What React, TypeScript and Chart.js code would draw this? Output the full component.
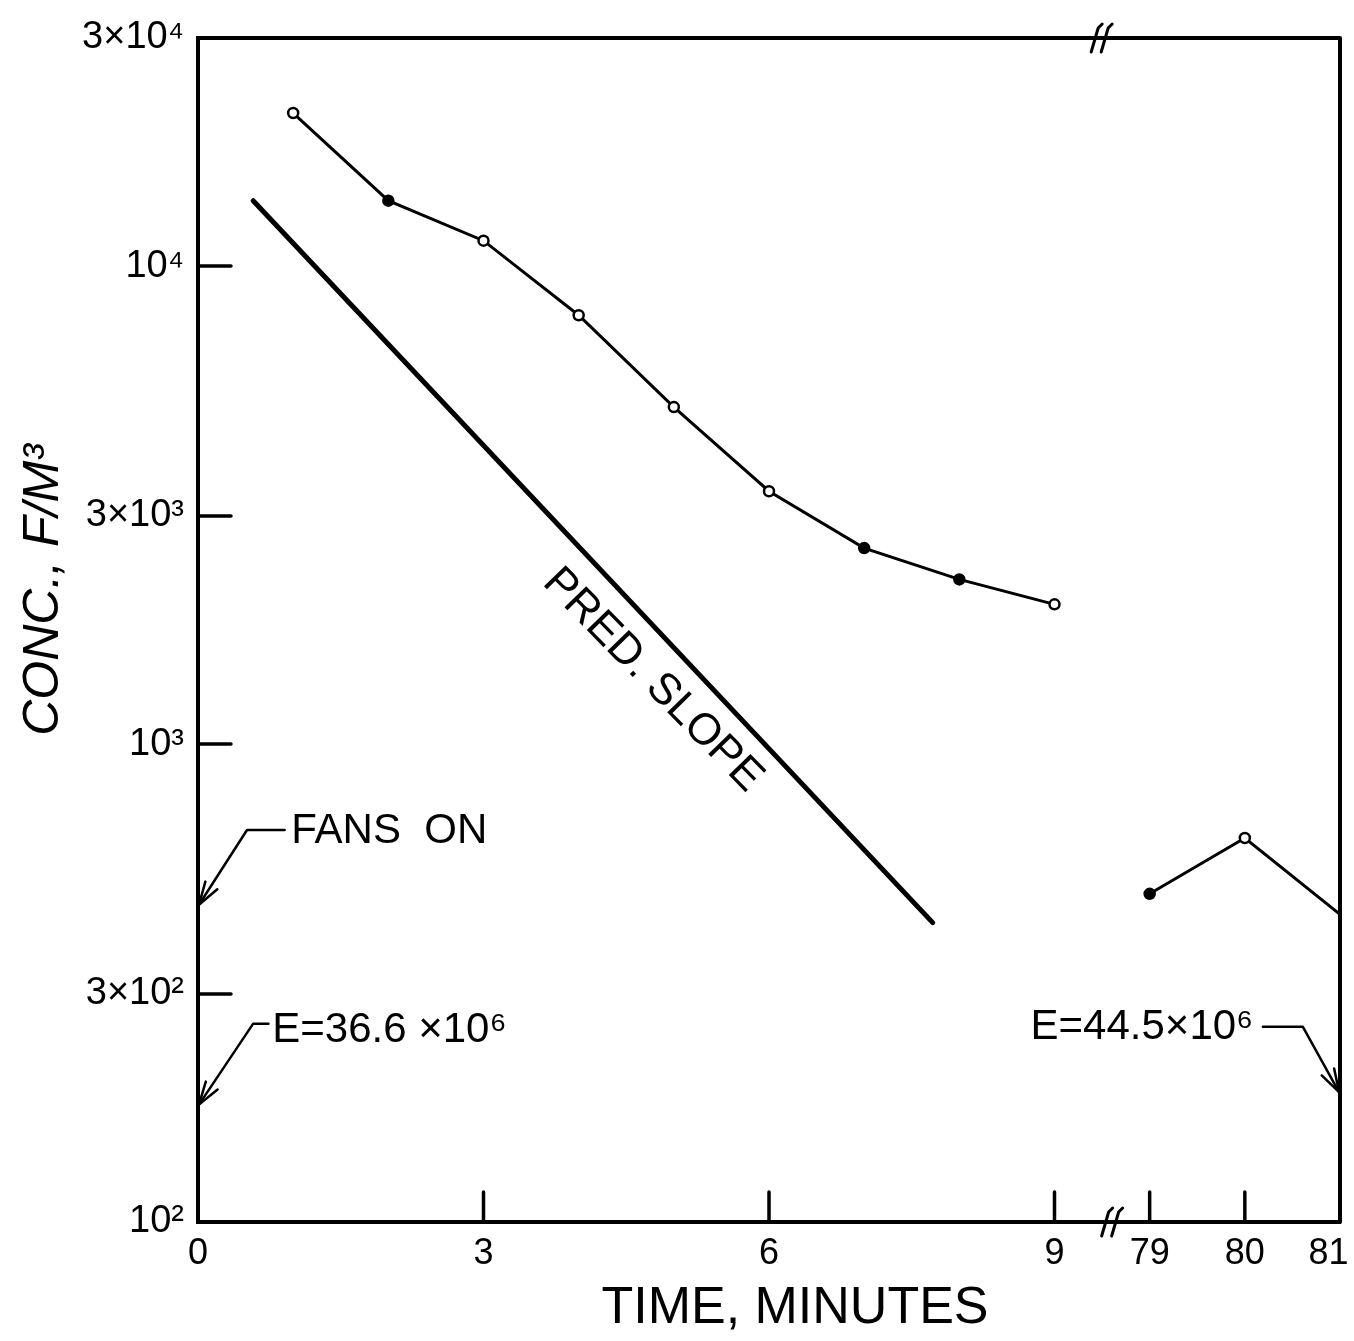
import React, { useEffect, useRef } from 'react';
import { Chart, registerables } from 'chart.js';

Chart.register(...registerables);

// ---- data ----
const earlyTimes = [1, 2, 3, 4, 5, 6, 7, 8, 9];
const earlyConc = [20900, 13700, 11300, 7890, 5070, 3380, 2570, 2210, 1960];
const lateTimes = [79, 80, 81];
const lateConc = [486, 636, 440];
const predTimes = [0.58, 7.72];
const predConc = [13700, 423];

const yTickValues = [100, 300, 1000, 3000, 10000, 30000];
const yTickLabels = ['10²', '3×10²', '10³', '3×10³', '10⁴', '3×10⁴'];
const xTickPositions = [0, 3, 6, 9, 10, 11, 11.88];
const xTickLabels = ['0', '3', '6', '9', '79', '80', '81'];

const innerYTicks = [300, 1000, 3000, 10000];
const innerXTicks = [3, 6, 9, 10, 11];

// broken time axis: 79..81 min drawn right after 9 min
const axisPos = (t: number) => (t <= 9 ? t : t - 69);

const FONT = "'Liberation Sans', Arial, sans-serif";

const earlyFill = ['#fff', '#000', '#fff', '#fff', '#fff', '#fff', '#000', '#000', '#fff'];
const lateFill = ['#000', '#fff', '#fff'];

type Ann = { text: string; x: number; y: number; align: CanvasTextAlign; path: [number, number][] };
const annotations: Ann[] = [
  { text: 'FANS  ON', x: 0.98, y: 655, align: 'left', path: [[0.91, 661], [0.515, 661], [0.01, 461]] },
  { text: 'E=36.6 ×10⁶', x: 0.78, y: 252, align: 'left', path: [[0.74, 260], [0.58, 260], [0.01, 176]] },
  { text: 'E=44.5×10⁶', x: 11.09, y: 255, align: 'right', path: [[11.19, 256], [11.61, 256], [11.99, 187]] },
];

const framePlugin = {
  id: 'frameAndNotes',
  afterDraw(chart: any) {
    const ctx: CanvasRenderingContext2D = chart.ctx;
    const { left, right, top, bottom } = chart.chartArea;
    const xs = chart.scales.x;
    const ys = chart.scales.y;
    const px = (v: number) => xs.getPixelForValue(v);
    const py = (v: number) => ys.getPixelForValue(v);
    ctx.save();
    ctx.strokeStyle = '#000';
    ctx.fillStyle = '#000';
    ctx.lineCap = 'round';
    ctx.lineJoin = 'round';

    // top and right frame
    ctx.lineWidth = 4;
    ctx.beginPath();
    ctx.moveTo(left, top);
    ctx.lineTo(right, top);
    ctx.lineTo(right, bottom);
    ctx.stroke();

    // inner tick marks
    ctx.lineWidth = 3.5;
    innerYTicks.forEach((v) => {
      const y = py(v);
      ctx.beginPath();
      ctx.moveTo(left, y);
      ctx.lineTo(left + 33, y);
      ctx.stroke();
    });
    innerXTicks.forEach((v) => {
      const x = px(v);
      ctx.beginPath();
      ctx.moveTo(x, bottom);
      ctx.lineTo(x, bottom - 30);
      ctx.stroke();
    });

    // axis break marks
    const breakMark = (cx: number, cy: number) => {
      ctx.lineWidth = 3;
      [-5, 5].forEach((o) => {
        ctx.beginPath();
        ctx.moveTo(cx + o - 4, cy + 14);
        ctx.lineTo(cx + o + 3, cy - 10);
        ctx.lineTo(cx + o + 7, cy - 14);
        ctx.stroke();
      });
    };
    breakMark(px(9.48), top);
    breakMark(px(9.59), bottom);

    // annotations with leader arrows
    ctx.font = `42px ${FONT}`;
    ctx.textBaseline = 'middle';
    annotations.forEach((a) => {
      ctx.textAlign = a.align;
      ctx.fillText(a.text, px(a.x), py(a.y));
      const pts = a.path.map(([x, y]) => [px(x), py(y)]);
      ctx.lineWidth = 2.5;
      ctx.beginPath();
      ctx.moveTo(pts[0][0], pts[0][1]);
      for (let i = 1; i < pts.length; i++) ctx.lineTo(pts[i][0], pts[i][1]);
      ctx.stroke();
      const [tx, ty] = pts[pts.length - 1];
      const [sx, sy] = pts[pts.length - 2];
      const ang = Math.atan2(ty - sy, tx - sx);
      const L = 24;
      ctx.beginPath();
      ctx.moveTo(tx - L * Math.cos(ang - 0.3), ty - L * Math.sin(ang - 0.3));
      ctx.lineTo(tx, ty);
      ctx.lineTo(tx - L * Math.cos(ang + 0.3), ty - L * Math.sin(ang + 0.3));
      ctx.stroke();
    });

    // PRED. SLOPE label along the line
    ctx.save();
    ctx.translate(px(4.78), py(1360));
    ctx.rotate((45.6 * Math.PI) / 180);
    ctx.font = `44px ${FONT}`;
    ctx.textAlign = 'center';
    ctx.textBaseline = 'middle';
    ctx.fillText('PRED. SLOPE', 0, 0);
    ctx.restore();

    // axis titles
    ctx.font = `52px ${FONT}`;
    ctx.textAlign = 'center';
    ctx.textBaseline = 'alphabetic';
    ctx.fillText('TIME, MINUTES', 795, 1323);

    ctx.save();
    ctx.translate(58, 590);
    ctx.rotate(-Math.PI / 2);
    ctx.font = `italic 50px ${FONT}`;
    ctx.textAlign = 'center';
    ctx.textBaseline = 'alphabetic';
    ctx.fillText('CONC., F/M³', 0, 0);
    ctx.restore();

    ctx.restore();
  },
};

export default function App() {
  const ref = useRef<HTMLCanvasElement | null>(null);
  useEffect(() => {
    document.body.style.margin = '0';
    const canvas = ref.current;
    if (!canvas) return;
    const chart = new Chart(canvas, {
      type: 'line',
      data: {
        datasets: [
          {
            label: 'Measured, 0–9 min',
            data: earlyTimes.map((t, i) => ({ x: axisPos(t), y: earlyConc[i] })),
            borderColor: '#000',
            borderWidth: 3,
            pointRadius: 5,
            pointBorderWidth: 2.5,
            pointBorderColor: '#000',
            pointBackgroundColor: earlyFill,
            tension: 0,
          },
          {
            label: 'Measured, 79–81 min',
            data: lateTimes.map((t, i) => ({ x: axisPos(t), y: lateConc[i] })),
            borderColor: '#000',
            borderWidth: 3,
            pointRadius: [5, 5, 0],
            pointBorderWidth: 2.5,
            pointBorderColor: '#000',
            pointBackgroundColor: lateFill,
            tension: 0,
          },
          {
            label: 'Pred. slope',
            data: predTimes.map((t, i) => ({ x: t, y: predConc[i] })),
            borderColor: '#000',
            borderWidth: 5,
            borderCapStyle: 'round',
            pointRadius: 0,
            tension: 0,
          },
        ],
      },
      options: {
        responsive: false,
        animation: false,
        layout: { padding: { left: 0, right: 14, top: 38, bottom: 0 } },
        plugins: { legend: { display: false }, tooltip: { enabled: false } },
        scales: {
          x: {
            type: 'linear',
            min: 0,
            max: 12,
            afterBuildTicks: (s: any) => {
              s.ticks = xTickPositions.map((v) => ({ value: v }));
            },
            afterFit: (s: any) => {
              s.height = 119;
              s.paddingLeft = 0;
              s.paddingRight = 0;
            },
            ticks: {
              callback: (_v: any, i: number) => xTickLabels[i],
              color: '#000',
              font: { family: FONT, size: 36 },
              padding: 10,
              maxRotation: 0,
              autoSkip: false,
            },
            grid: { display: false, drawTicks: false },
            border: { display: true, color: '#000', width: 4 },
          },
          y: {
            type: 'logarithmic',
            min: 100,
            max: 30000,
            afterBuildTicks: (s: any) => {
              s.ticks = yTickValues.map((v) => ({ value: v }));
            },
            afterFit: (s: any) => {
              s.width = 198;
              s.paddingTop = 0;
              s.paddingBottom = 0;
            },
            ticks: {
              callback: (_v: any, i: number) => yTickLabels[i],
              color: '#000',
              font: { family: FONT, size: 38 },
              padding: 14,
              autoSkip: false,
            },
            grid: { display: false, drawTicks: false },
            border: { display: true, color: '#000', width: 4 },
          },
        },
      },
      plugins: [framePlugin],
    } as any);
    return () => chart.destroy();
  }, []);
  return <canvas ref={ref} width={1354} height={1341} style={{ display: 'block' }} />;
}
